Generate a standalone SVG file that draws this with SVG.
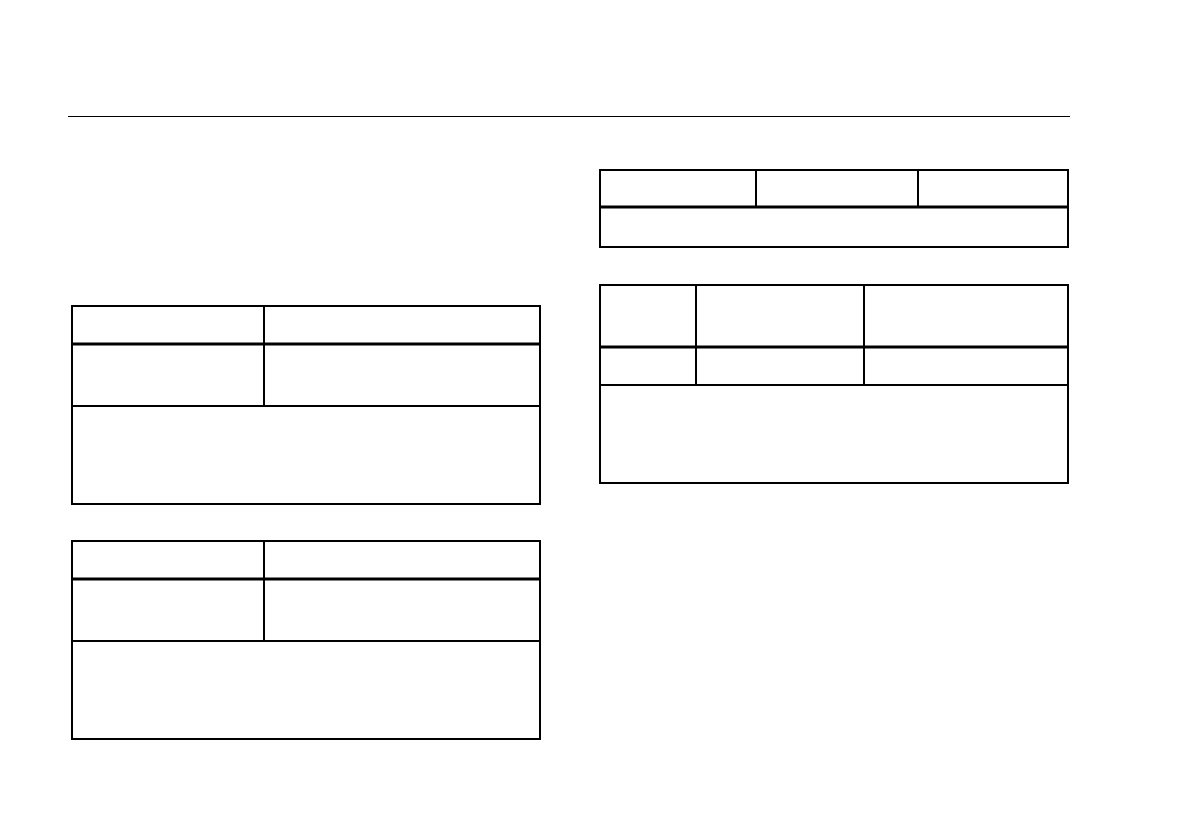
<svg xmlns="http://www.w3.org/2000/svg" width="1188" height="830" viewBox="0 0 1188 830">
<style>.t{fill:none;stroke:#000;stroke-width:2}.k{stroke:#000;stroke-width:3}.n{stroke:#000;stroke-width:2}</style>
<rect width="1188" height="830" fill="#fff"/>
<line x1="68" y1="116.5" x2="1070" y2="116.5" stroke="#000" stroke-width="1.2"/>
<g id="table1">
<rect class="t" x="72" y="306" width="468" height="198"/>
<line class="k" x1="72" y1="344" x2="540" y2="344"/>
<line class="n" x1="72" y1="406" x2="540" y2="406"/>
<line class="n" x1="264" y1="306" x2="264" y2="406"/>
</g>
<g id="table2">
<rect class="t" x="72" y="541" width="468" height="198"/>
<line class="k" x1="72" y1="579" x2="540" y2="579"/>
<line class="n" x1="72" y1="641" x2="540" y2="641"/>
<line class="n" x1="264" y1="541" x2="264" y2="641"/>
</g>
<g id="table3">
<rect class="t" x="600" y="170" width="468" height="77"/>
<line class="k" x1="600" y1="207" x2="1068" y2="207"/>
<line class="n" x1="756" y1="170" x2="756" y2="207"/>
<line class="n" x1="918" y1="170" x2="918" y2="207"/>
</g>
<g id="table4">
<rect class="t" x="600" y="285" width="468" height="198"/>
<line class="k" x1="600" y1="347" x2="1068" y2="347"/>
<line class="n" x1="600" y1="385" x2="1068" y2="385"/>
<line class="n" x1="696" y1="285" x2="696" y2="385"/>
<line class="n" x1="864" y1="285" x2="864" y2="385"/>
</g>
<g id="connectors"/>
</svg>
